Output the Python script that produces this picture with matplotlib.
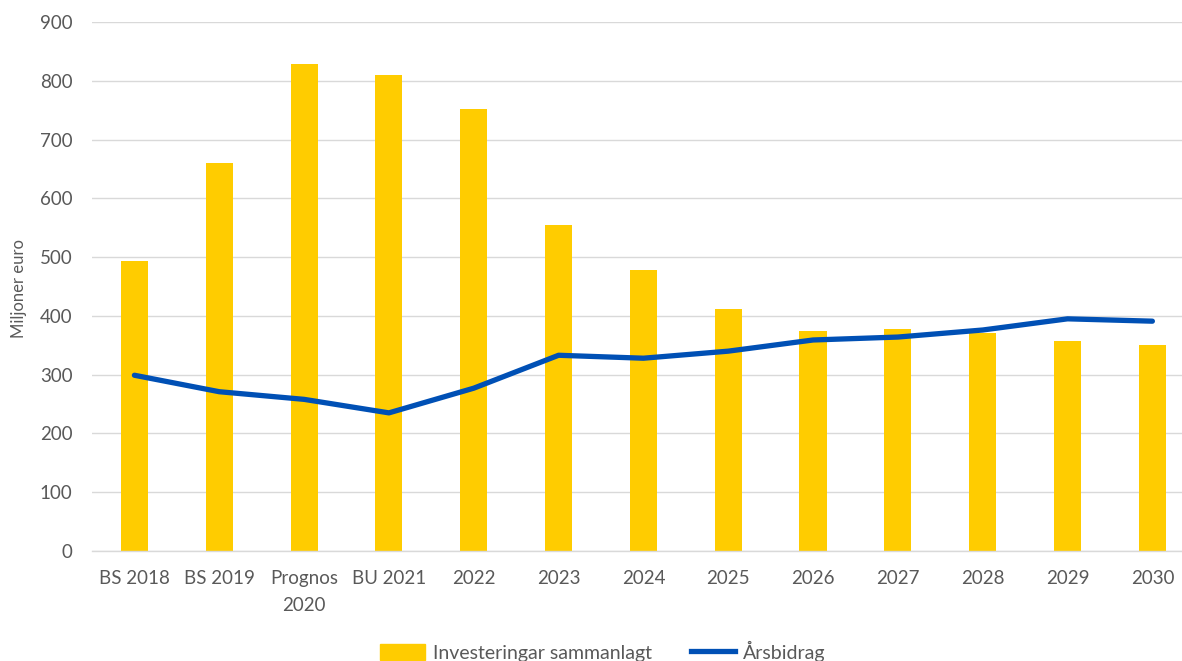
import numpy as np
import matplotlib.pyplot as plt
from matplotlib.patches import Patch
from matplotlib.lines import Line2D

categories = ["BS 2018", "BS 2019", "Prognos\n2020", "BU 2021", "2022", "2023", "2024",
              "2025", "2026", "2027", "2028", "2029", "2030"]
investments = [493, 660, 828, 810, 752, 555, 478, 412, 374, 377, 371, 357, 350]
annual_margin = [299, 271, 258, 235, 277, 333, 328, 340, 359, 364, 376, 395, 391]

bar_color = "#FFCC00"
line_color = "#0050B5"
text_color = "#595959"

plt.rcParams["font.family"] = ["Lato", "DejaVu Sans"]

fig = plt.figure(figsize=(11.82, 6.61), dpi=100)
ax = fig.add_axes([92 / 1182, 1 - 551 / 661, 1102.8 / 1182, 529 / 661])

x = np.arange(len(categories))
ax.bar(x, investments, width=0.32, color=bar_color, zorder=2)
ax.plot(x, annual_margin, color=line_color, linewidth=3.8, solid_capstyle="round", zorder=3)

ax.set_xlim(-0.5, len(categories) - 0.5)
ax.set_ylim(0, 900)
ax.set_yticks(np.arange(0, 901, 100))
ax.set_xticks(x)
ax.set_xticklabels(categories, linespacing=1.65)

ax.grid(axis="y", color="#D9D9D9", linewidth=1.0, zorder=0)
for side in ["top", "right", "left"]:
    ax.spines[side].set_visible(False)
ax.spines["bottom"].set_color("#D9D9D9")
ax.spines["bottom"].set_linewidth(1.0)
ax.tick_params(axis="both", length=0, labelsize=13.5, labelcolor=text_color)
ax.tick_params(axis="x", pad=14)
ax.tick_params(axis="y", pad=14)

fig.text(19 / 1182, 1 - 288 / 661, "Miljoner euro", rotation=90, ha="center", va="center",
         fontsize=12, color=text_color)

handles = [Patch(color=bar_color), Line2D([0], [0], color=line_color, linewidth=3.8)]
fig.legend(handles, ["Investeringar sammanlagt", "Årsbidrag"], loc="center",
           bbox_to_anchor=(603 / 1182, 1 - 651 / 661), ncol=2, frameon=False,
           fontsize=14, labelcolor=text_color, columnspacing=2.0, handlelength=2.3,
           handleheight=0.9, handletextpad=0.4)

fig.savefig("out.png", dpi=100)
